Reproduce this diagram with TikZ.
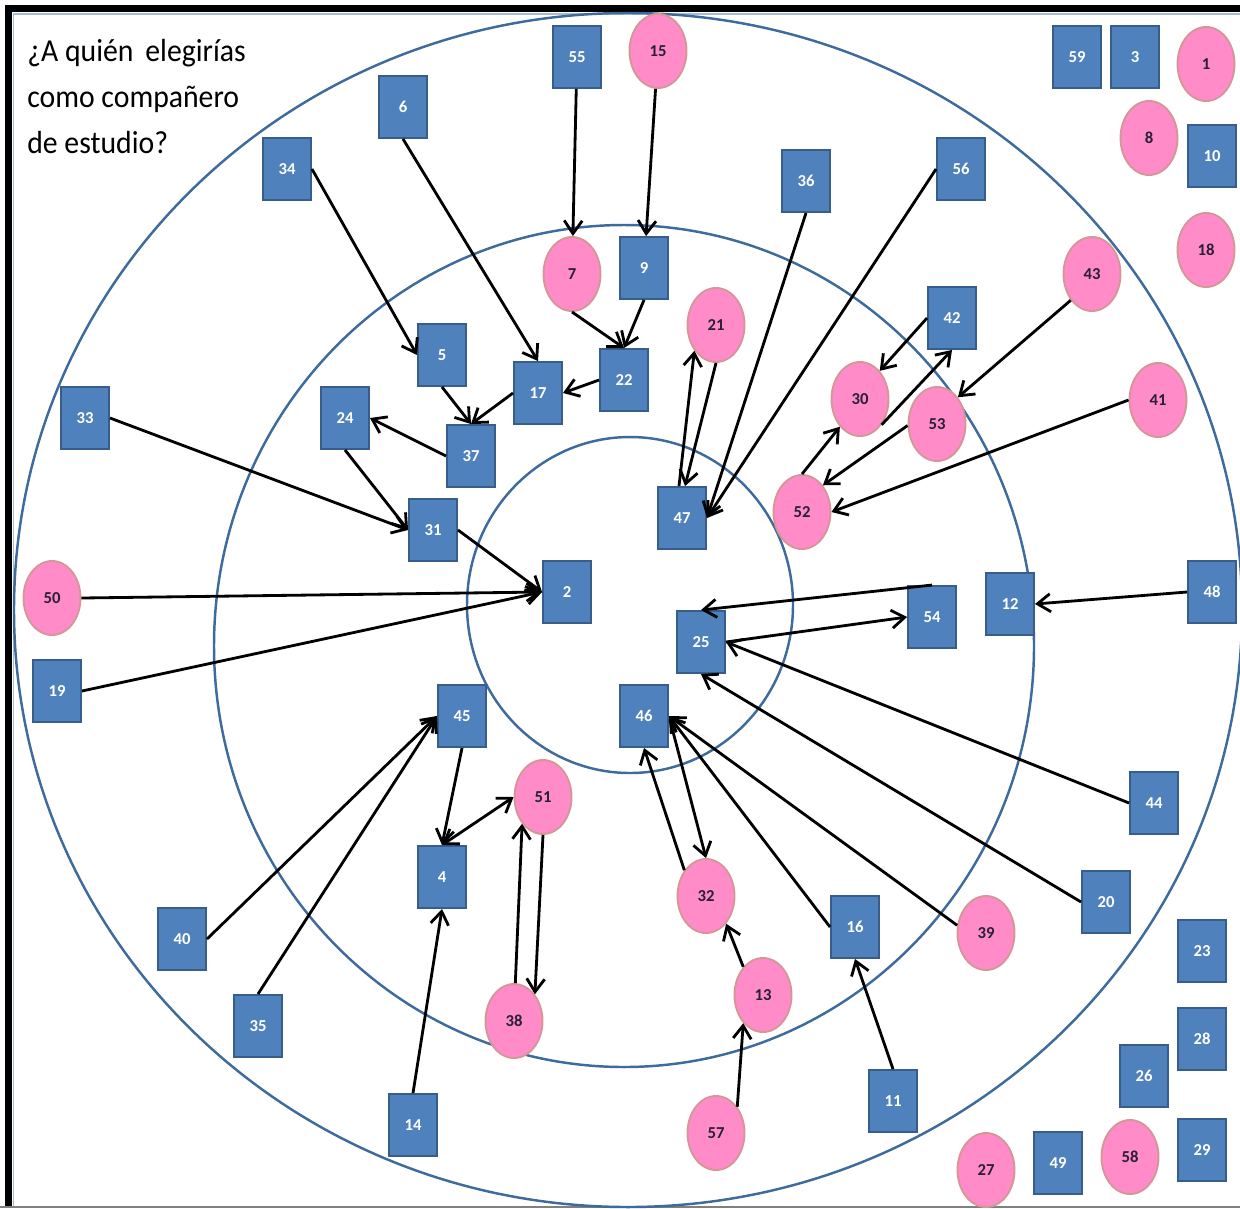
\documentclass[tikz,border=0pt]{standalone}
\usepackage{fontspec}
\setmainfont{Carlito}
\usetikzlibrary{arrows.meta,calc,shapes.geometric}
\definecolor{boxfill}{RGB}{79,129,189}
\definecolor{boxline}{RGB}{56,93,138}
\definecolor{pinkfill}{RGB}{255,140,200}
\definecolor{pinkline}{RGB}{214,150,150}
\definecolor{ringcol}{RGB}{62,106,156}
\definecolor{numdark}{RGB}{40,30,60}
\definecolor{framelight}{RGB}{165,188,218}
\tikzset{
 sq/.style={rectangle, draw=boxline, fill=boxfill, line width=1.1pt, minimum width=0.96cm, minimum height=1.24cm, inner sep=0pt, text=white, font=\fontsize{9.5}{11}\selectfont\bfseries},
 pk/.style={ellipse, draw=pinkline, fill=pinkfill, line width=1.1pt, minimum width=1.14cm, minimum height=1.48cm, inner sep=0pt, text=numdark, font=\fontsize{9.5}{11}\selectfont\bfseries},
 ring/.style={draw=ringcol, line width=1.4pt},
 arr/.style={draw=black, line width=1.6pt, -{Straight Barb[length=2.6mm,width=3.6mm]}},
 dbl/.style={draw=black, line width=1.6pt, {Straight Barb[length=2.6mm,width=3.6mm]}-{Straight Barb[length=2.6mm,width=3.6mm]}},
 ttl/.style={anchor=base west, inner sep=0pt, font=\fontsize{18.2}{22}\selectfont, xscale=0.93, transform shape}
}
\begin{document}
\begin{tikzpicture}[x=0.02cm,y=-0.02cm]
\useasboundingbox (0,0) rectangle (1240,1208);
% frame
\draw[line width=0.14cm, black] (8.5,1208) -- (8.5,8.5) -- (1240,8.5);
\draw[line width=0.04cm, framelight] (13.5,1208) -- (13.5,13.5) -- (1240,13.5);
\draw[line width=0.04cm, gray] (0,1207) -- (1240,1207);
% rings
\draw[ring] (628,610) ellipse [x radius=614, y radius=597];
\draw[ring] (624,646) ellipse [x radius=410, y radius=421];
\draw[ring] (630,605) ellipse [x radius=163, y radius=168];
% title
\node[ttl] (t1) at (27,61) {¿A quién\hspace{0.4em}elegirías};
\node[ttl] (t2) at (27,107) {como compañero};
\node[ttl] (t3) at (27,153) {de estudio?};
% squares
\node[sq] (n55) at (577,57) {55};
\node[sq] (n6) at (403,107) {6};
\node[sq] (n34) at (287,169) {34};
\node[sq] (n36) at (806,181) {36};
\node[sq] (n56) at (961,169) {56};
\node[sq] (n59) at (1077,57) {59};
\node[sq] (n3) at (1135,57) {3};
\node[sq] (n10) at (1212,156) {10};
\node[sq] (n9) at (644,268) {9};
\node[sq] (n42) at (952,318) {42};
\node[sq] (n5) at (442,355) {5};
\node[sq] (n17) at (538,393) {17};
\node[sq] (n22) at (624,380) {22};
\node[sq] (n24) at (345,418) {24};
\node[sq] (n37) at (471,456) {37};
\node[sq] (n33) at (85,418) {33};
\node[sq] (n31) at (433,530) {31};
\node[sq] (n47) at (682,518) {47};
\node[sq] (n2) at (567,592) {2};
\node[sq] (n54) at (932,617) {54};
\node[sq] (n12) at (1010,604) {12};
\node[sq] (n48) at (1212,592) {48};
\node[sq] (n25) at (701,642) {25};
\node[sq] (n19) at (57,691) {19};
\node[sq] (n45) at (462,716) {45};
\node[sq] (n46) at (644,716) {46};
\node[sq] (n4) at (442,877) {4};
\node[sq] (n44) at (1154,803) {44};
\node[sq] (n20) at (1106,902) {20};
\node[sq] (n16) at (855,927) {16};
\node[sq] (n40) at (182,939) {40};
\node[sq] (n35) at (258,1026) {35};
\node[sq] (n23) at (1202,951) {23};
\node[sq] (n28) at (1202,1039) {28};
\node[sq] (n26) at (1144,1076) {26};
\node[sq] (n14) at (413,1125) {14};
\node[sq] (n11) at (893,1101) {11};
\node[sq] (n49) at (1058,1163) {49};
\node[sq] (n29) at (1202,1150) {29};
% pink
\node[pk] (n15) at (658,51) {15};
\node[pk] (n1) at (1206,64) {1};
\node[pk] (n8) at (1149,138) {8};
\node[pk] (n18) at (1206,250) {18};
\node[pk] (n7) at (572,274) {7};
\node[pk] (n43) at (1092,274) {43};
\node[pk] (n21) at (716,325) {21};
\node[pk] (n30) at (860,399) {30};
\node[pk] (n53) at (937,424) {53};
\node[pk] (n41) at (1158,400) {41};
\node[pk] (n52) at (802,512) {52};
\node[pk] (n50) at (52,598) {50};
\node[pk] (n51) at (543,797) {51};
\node[pk] (n32) at (706,896) {32};
\node[pk] (n39) at (986,933) {39};
\node[pk] (n13) at (763,995) {13};
\node[pk] (n38) at (514,1021) {38};
\node[pk] (n57) at (716,1133) {57};
\node[pk] (n27) at (986,1170) {27};
\node[pk] (n58) at (1130,1157) {58};
% arrows
\draw[arr] (n55) -- (n7);
\draw[arr] (n15) -- (n9);
\draw[arr] (n7.south) -- (n22.north);
\draw[arr] (n9.south) -- (n22.north);
\draw[arr] (n22.west) -- (n17.east);
\draw[arr] (n6.south) -- (n17.north);
\draw[arr] (n34.east) -- (n5.west);
\draw[arr] (n5.south) -- (n37.north);
\draw[arr] (n17.west) -- (n37.north);
\draw[arr] (n37.west) -- (n24.east);
\draw[arr] (n24.south) -- (n31.west);
\draw[arr] (n33.east) -- (n31.west);
\draw[arr] (n31.east) -- (n2.west);
\draw[arr] (n50.east) -- (n2.west);
\draw[arr] (n19.east) -- (n2.west);
\draw[arr] (n36.south) -- (n47.east);
\draw[arr] (n56.west) -- (n47.east);
\draw[arr] (n21.south) -- ($(n47.north)+(3,0)$);
\draw[arr] ($(n47.north)+(-3,0)$) -- (n21.230);
\draw[arr] (n42.west) -- (n30.55);
\draw[arr] (n30.310) -- (n42.south);
\draw[arr] (n52.north) -- (n30.234);
\draw[arr] (n43.231) -- (n53.52);
\draw[arr] (n53.183) -- (n52.52);
\draw[arr] (n41.west) -- (n52.east);
\draw[arr] (n54.north) -- (n25.north);
\draw[arr] (n25.east) -- (n54.west);
\draw[arr] (n48.west) -- (n12.east);
\draw[arr] (n44.west) -- (n25.east);
\draw[arr] (n20.west) -- (n25.south);
\draw[arr] (n39.165) -- (n46.east);
\draw[arr] (n16.west) -- (n46.east);
\draw[arr] (n32.130) -- (n46.south);
\draw[arr] ($(n46.east)+(1,4)$) -- (n32.north);
\draw[arr] (n13.125) -- (n32.306);
\draw[arr] (n57.51) -- (n13.235);
\draw[arr] (n11.north) -- (n16.south);
\draw[arr] (n40.east) -- (n45.west);
\draw[arr] (n35.north) -- (n45.west);
\draw[arr] (n45.south) -- (n4.north);
\draw[dbl] (n4.north) -- (n51.west);
\draw[arr] (n38.88) -- (n51.232);
\draw[arr] (n51.south) -- (n38.52);
\draw[arr] (n14.north) -- (n4.south);
\end{tikzpicture}
\end{document}
